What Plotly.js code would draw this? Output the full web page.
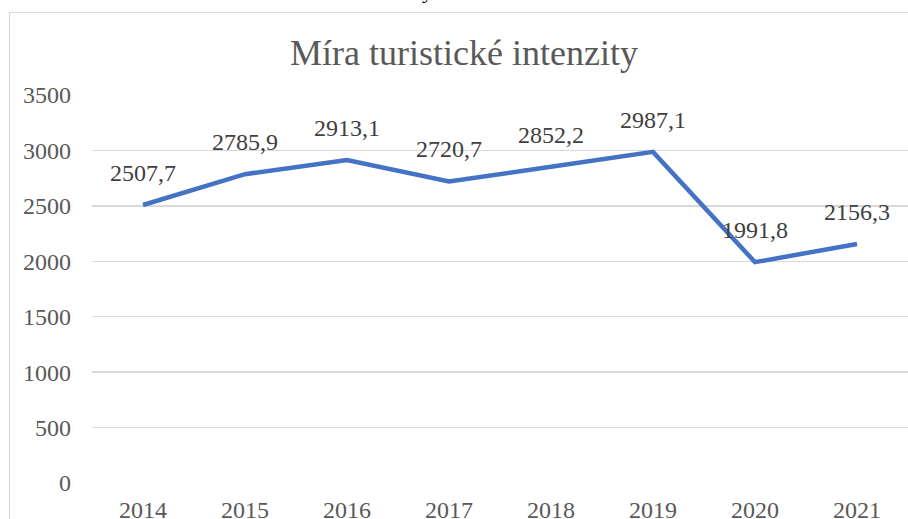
<!DOCTYPE html>
<html><head><meta charset="utf-8">
<script src="https://cdn.plot.ly/plotly-3.0.1.min.js"></script>
<style>
html,body{margin:0;padding:0;background:#fff;overflow:hidden;}
#wrap{position:relative;width:908px;height:519px;}
#chart{width:908px;height:519px;}
#frame{position:absolute;left:9px;top:12px;width:1000px;height:600px;border-left:1.5px solid #d9d9d9;border-top:1.5px solid #d9d9d9;pointer-events:none;}
#frag{position:absolute;left:422px;top:-20px;font-family:'Liberation Serif';font-size:22px;line-height:22px;color:#000;pointer-events:none;}
</style>
</head><body><div id="wrap"><div id="chart"></div><div id="frame"></div><div id="frag">y</div></div>
<script>
const years = ['2014','2015','2016','2017','2018','2019','2020','2021'];
const values = [2507.7, 2785.9, 2913.1, 2720.7, 2852.2, 2987.1, 1991.8, 2156.3];
const yTicks = [0, 500, 1000, 1500, 2000, 2500, 3000, 3500];
const titleText = 'Míra turistické intenzity';

const SERIF = 'Liberation Serif';
const fmt = v => v.toFixed(1).replace('.', ',');

const annotations = years.map((yr, i) => ({
  x: i, y: values[i], xref: 'x', yref: 'y',
  text: fmt(values[i]), showarrow: false, yshift: 32,
  font: {family: SERIF, size: 24, color: '#404040'}
}));

Plotly.newPlot('chart', [{
  x: years, y: values, type: 'scatter', mode: 'lines',
  line: {color: '#4472C4', width: 4.5},
  hoverinfo: 'skip'
}], {
  width: 908, height: 519,
  margin: {l: 92, r: 0, t: 95, b: 36, pad: 0},
  paper_bgcolor: '#fff', plot_bgcolor: '#fff',
  showlegend: false,
  title: {text: titleText, x: 0.511, xanchor: 'center', y: 0.9, yanchor: 'middle',
    font: {family: SERIF, size: 36, color: '#595959'}},
  xaxis: {type: 'category', range: [-0.5, 7.5], showgrid: false, zeroline: false, showline: false,
    ticks: '', ticklabelstandoff: 10,
    tickfont: {family: SERIF, size: 24, color: '#595959'}},
  yaxis: {range: [0, 3500], tickvals: yTicks, ticktext: yTicks.map(String),
    showgrid: true, gridcolor: '#d9d9d9', gridwidth: 1.5, zeroline: false, showline: false,
    ticks: '', ticklabelstandoff: 20,
    tickfont: {family: SERIF, size: 24, color: '#595959'}},
  annotations: annotations
}, {staticPlot: true});
</script></body></html>
